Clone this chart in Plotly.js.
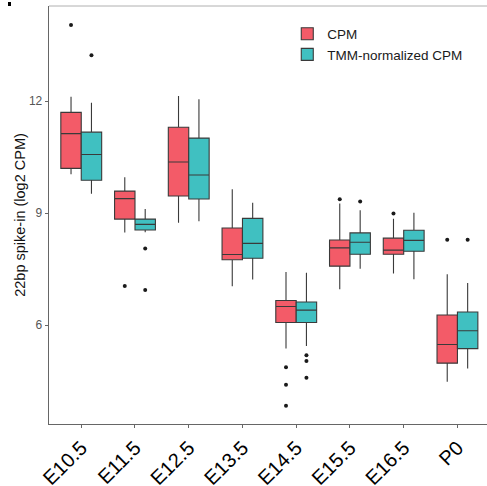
<!DOCTYPE html>
<html>
<head>
<meta charset="utf-8">
<script src="https://cdn.plot.ly/plotly-3.0.1.min.js"></script>
<style>html,body{margin:0;padding:0;background:#fff;}#chart{width:487px;height:486px;}</style>
</head>
<body>
<div id="chart"></div>
<script>
// ---- Data ----
const categories = ['E10.5','E11.5','E12.5','E13.5','E14.5','E15.5','E16.5','P0'];

const cpmLow    = [10.04, 8.48, 8.74, 7.04, 5.37, 6.96, 7.38, 4.48];
const cpmQ1     = [10.20, 8.84, 9.46, 7.75, 6.07, 7.58, 7.90, 4.98];
const cpmMedian = [11.13, 9.39, 10.37, 7.89, 6.50, 8.07, 8.01, 5.48];
const cpmQ3     = [11.70, 9.59, 11.30, 8.60, 6.66, 8.28, 8.33, 6.27];
const cpmHigh   = [12.12, 9.96, 12.14, 9.64, 7.42, 9.26, 8.85, 7.36];
const cpmOutCat = ['E10.5','E11.5','E14.5','E14.5','E14.5','E15.5','E16.5','P0'];
const cpmOutVal = [14.04, 7.05, 4.87, 4.40, 3.84, 9.37, 8.99, 8.29];

const tmmLow    = [9.52, 8.49, 8.78, 7.22, 5.44, 7.51, 7.23, 4.84];
const tmmQ1     = [9.88, 8.55, 9.38, 7.79, 6.07, 7.90, 7.98, 5.37];
const tmmMedian = [10.57, 8.70, 10.02, 8.19, 6.40, 8.22, 8.27, 5.85];
const tmmQ3     = [11.17, 8.84, 11.01, 8.86, 6.62, 8.47, 8.54, 6.35];
const tmmHigh   = [11.96, 9.11, 12.05, 9.28, 7.40, 9.08, 9.01, 7.13];
const tmmOutCat = ['E10.5','E11.5','E11.5','E14.5','E14.5','E14.5','E15.5','P0'];
const tmmOutVal = [13.23, 8.05, 6.94, 5.19, 5.04, 4.59, 9.31, 8.29];

const seriesNames = ['CPM', 'TMM-normalized CPM'];
const yTicks = [6, 9, 12];

// ---- Styling ----
const colors = ['#F35B68', '#40C0C1'];
const dodge = 0.19;
const boxW = 0.38;
const idx = c => categories.indexOf(c);

function boxTrace(name, color, off, low, q1, med, q3, high) {
  return {
    type: 'box', name: name,
    x: categories.map((c, i) => i + off),
    lowerfence: low, q1: q1, median: med, q3: q3, upperfence: high,
    width: boxW, whiskerwidth: 0, boxpoints: false,
    fillcolor: color, line: {color: '#3a3a3a', width: 1.1},
    hoverinfo: 'skip'
  };
}
function outTrace(off, cats, vals) {
  return {
    type: 'scatter', mode: 'markers', showlegend: false,
    x: cats.map(c => idx(c) + off), y: vals,
    marker: {color: '#1a1a1a', size: 4}, hoverinfo: 'skip'
  };
}

const data = [
  boxTrace(seriesNames[0], colors[0], -dodge, cpmLow, cpmQ1, cpmMedian, cpmQ3, cpmHigh),
  boxTrace(seriesNames[1], colors[1], dodge, tmmLow, tmmQ1, tmmMedian, tmmQ3, tmmHigh),
  outTrace(-dodge, cpmOutCat, cpmOutVal),
  outTrace(dodge, tmmOutCat, tmmOutVal)
];

const layout = {
  width: 487, height: 486,
  margin: {l: 49, r: 0, t: 6, b: 62},
  paper_bgcolor: '#ffffff', plot_bgcolor: '#ffffff',
  font: {family: 'Liberation Sans, Arial, sans-serif', color: '#000'},
  boxmode: 'overlay',
  showlegend: true,
  legend: {
    x: 0.544, y: 0.97, xanchor: 'left', yanchor: 'top',
    bgcolor: 'rgba(0,0,0,0)', font: {size: 13.5, color: '#1a1a1a'},
    tracegroupgap: 0, itemwidth: 30
  },
  xaxis: {
    range: [-0.6, 7.55], tickmode: 'array',
    tickvals: categories.map((c, i) => i), ticktext: categories,
    tickangle: -45, tickfont: {size: 20, color: '#000'},
    showgrid: false, zeroline: false,
    showline: true, linecolor: '#666', linewidth: 1.3,
    ticks: 'outside', ticklen: 3, tickcolor: '#666'
  },
  yaxis: {
    range: [3.35, 14.55], tickvals: yTicks,
    tickfont: {size: 12, color: '#555'},
    title: {text: '22bp spike-in (log2 CPM)', font: {size: 14.5, color: '#111'}, standoff: 0},
    showgrid: false, zeroline: false,
    showline: true, linecolor: '#666', linewidth: 1.3,
    ticks: 'outside', ticklen: 3, tickcolor: '#666'
  },
  shapes: [{
    type: 'line', xref: 'paper', yref: 'paper', x0: 0, x1: 1, y0: 1, y1: 1,
    line: {color: '#b0b0b0', width: 1}
  }, {
    type: 'rect', xref: 'paper', yref: 'paper',
    x0: -0.0936, x1: -0.0868, y0: 1.0, y1: 1.0096,
    fillcolor: '#000', line: {width: 0}
  }]
};

Plotly.newPlot('chart', data, layout, {displayModeBar: false, staticPlot: true});
</script>
</body>
</html>
